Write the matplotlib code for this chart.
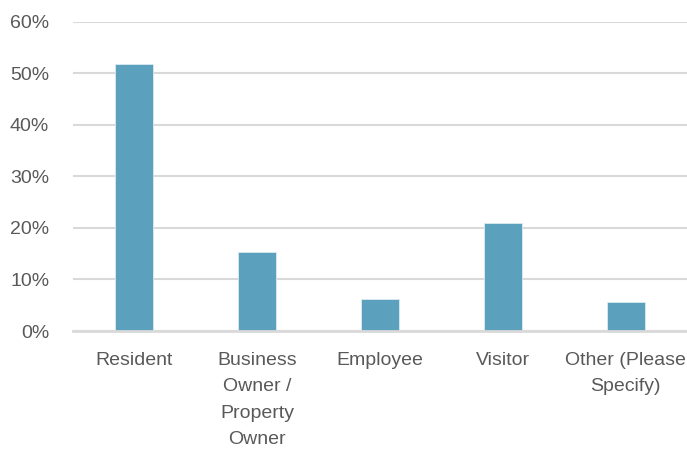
import matplotlib
matplotlib.use('Agg')
import matplotlib.pyplot as plt
from matplotlib.ticker import PercentFormatter

categories = ["Resident", "Business\nOwner /\nProperty\nOwner", "Employee", "Visitor", "Other (Please\nSpecify)"]
values = [0.518, 0.154, 0.062, 0.210, 0.056]
yticks = [0, 0.1, 0.2, 0.3, 0.4, 0.5, 0.6]

plt.rcParams['font.family'] = ['Liberation Sans Narrow', 'Liberation Sans', 'DejaVu Sans']

fig = plt.figure(figsize=(6.87, 4.55), dpi=100)
ax = fig.add_axes([0.106, 0.2725, 0.894, 0.6795])

x = list(range(len(categories)))
ax.bar(x, values, width=0.31, color='#5BA0BC', edgecolor='#DDEBF1', linewidth=0.6, zorder=3)

ax.set_ylim(0, 0.6)
ax.set_xlim(-0.5, len(categories) - 0.5)
ax.set_yticks(yticks)
ax.yaxis.set_major_formatter(PercentFormatter(1.0, decimals=0))
ax.grid(axis='y', color='#D9D9D9', linewidth=1.5, zorder=0)
ax.set_axisbelow(True)

for s in ['top', 'right', 'left']:
    ax.spines[s].set_visible(False)
ax.spines['bottom'].set_color('#D9D9D9')
ax.spines['bottom'].set_linewidth(2)
ax.spines['bottom'].set_zorder(4)

ax.set_xticks(x)
ax.set_xticklabels(categories, linespacing=1.72, va='top')
ax.tick_params(axis='both', length=0, labelsize=14, colors='#595959')
ax.tick_params(axis='x', pad=15)
ax.tick_params(axis='y', pad=17)

plt.savefig('out.png', dpi=100)
